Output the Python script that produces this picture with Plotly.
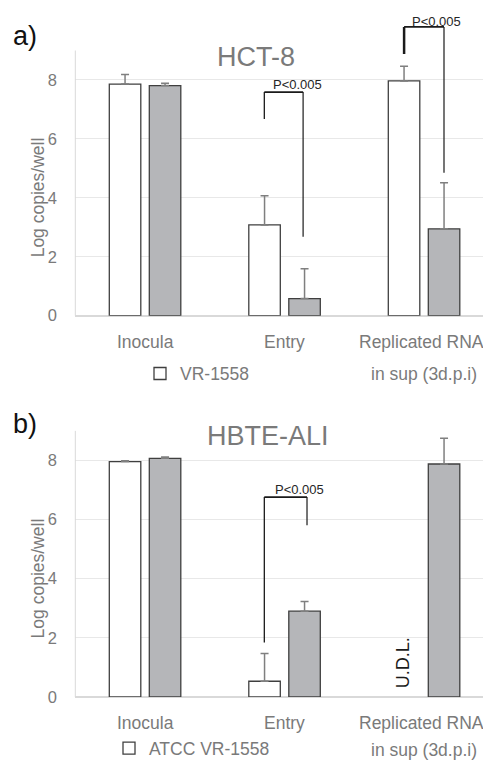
import plotly.graph_objects as go

# ---- data ----
categories = ["Inocula", "Entry", "Replicated RNA"]
cat_lines2 = ["", "", "in sup (3d.p.i)"]

# panel a) HCT-8
a_vr = [7.86, 3.08, 7.97]
a_vr_err = [0.33, 0.99, 0.50]
a_other = [7.81, 0.58, 2.95]
a_other_err = [0.08, 1.01, 1.56]

# panel b) HBTE-ALI
b_vr = [7.96, 0.53, None]          # replicated: U.D.L.
b_vr_err = [0.03, 0.94, 0]
b_other = [8.07, 2.90, 7.88]
b_other_err = [0.05, 0.33, 0.87]

yticks = [0, 2, 4, 6, 8]
p_label = "P<0.005"

# ---- styling ----
FONT = "Liberation Sans, Arial, sans-serif"
GREY_TXT = "#7a7a7a"
BAR_LINE = "#3f3f3f"
GREY_FILL = "#b5b6b9"
ERR_COL = "#7f7f7f"

OFF = 8           # page body margin
SY = 761 / 769    # observed vertical scale of the photographed page
W, H = 483, 775


def fx(p):
    return (p - OFF) / W


def py(p):
    return 1 - (p / SY - OFF) / H


fig = go.Figure()


def add_bars(vals, errs, xa, ya, fill, name, legend, show):
    fig.add_trace(go.Bar(
        x=categories, y=vals, name=name, xaxis=xa, yaxis=ya,
        marker=dict(color=fill, line=dict(color=BAR_LINE, width=1.3)),
        error_y=dict(type="data", array=errs, arrayminus=[0] * len(errs), symmetric=False,
                     color=ERR_COL, thickness=1.5, width=4),
        showlegend=show, legend=legend,
    ))


add_bars(a_vr, a_vr_err, "x", "y", "white", "VR-1558", "legend", True)
add_bars(a_other, a_other_err, "x", "y", GREY_FILL, "other", "legend", False)
add_bars(b_vr, b_vr_err, "x2", "y2", "white", "ATCC VR-1558", "legend2", True)
add_bars(b_other, b_other_err, "x2", "y2", GREY_FILL, "other", "legend2", False)

# axes
cat_px = 139.5
x_right = -0.5 + (491 - 75.3) / cat_px
top_dom = [py(316), py(21)]
bot_dom = [py(697.7), py(401.7)]

xcommon = dict(range=[-0.5, x_right], domain=[fx(75.3), 1], showticklabels=False,
               showgrid=False, zeroline=False, showline=False, fixedrange=True)
ycommon = dict(range=[0, 10], tickvals=yticks, showgrid=True, gridcolor="#e8e8e8",
               gridwidth=1, zeroline=True, zerolinecolor="#d9d9d9", zerolinewidth=2,
               showline=False, ticks="outside", ticklen=14, tickcolor="rgba(0,0,0,0)",
               tickfont=dict(family=FONT, size=16.5, color=GREY_TXT))

fig.update_layout(
    width=W, height=H,
    margin=dict(l=0, r=0, t=0, b=0),
    paper_bgcolor="white", plot_bgcolor="white",
    barmode="group", bargap=0.4265, bargroupgap=0.2125,
    xaxis=dict(anchor="y", **xcommon),
    xaxis2=dict(anchor="y2", **xcommon),
    yaxis=dict(anchor="x", domain=top_dom, **ycommon),
    yaxis2=dict(anchor="x2", domain=bot_dom, **ycommon),
    legend=dict(x=(180 - OFF - 40) / W, y=py(374), xanchor="left", yanchor="middle",
                font=dict(family=FONT, size=17.5, color=GREY_TXT), bgcolor="rgba(0,0,0,0)"),
    legend2=dict(x=(149 - OFF - 40) / W, y=py(749), xanchor="left", yanchor="middle",
                 font=dict(family=FONT, size=17.5, color=GREY_TXT), bgcolor="rgba(0,0,0,0)"),
)

shapes = []
# y-axis lines (0 to 9)
for xr, yr in (("x domain", "y"), ("x2 domain", "y2")):
    shapes.append(dict(type="line", xref=xr, yref=yr, x0=0, x1=0, y0=0, y1=9,
                       line=dict(color="#d9d9d9", width=1)))


def bracket(xr, yr, xl, xrgt, yl, ytop, yrb, lw_left=1.3):
    shapes.append(dict(type="line", xref=xr, yref=yr, x0=xl, x1=xl, y0=yl, y1=ytop,
                       line=dict(color="#1a1a1a", width=lw_left)))
    shapes.append(dict(type="line", xref=xr, yref=yr, x0=xl, x1=xrgt, y0=ytop, y1=ytop,
                       line=dict(color="#1a1a1a", width=1.8)))
    shapes.append(dict(type="line", xref=xr, yref=yr, x0=xrgt, x1=xrgt, y0=ytop, y1=yrb,
                       line=dict(color="#1a1a1a", width=1.2)))


bracket("x", "y", 0.855, 1.133, 6.68, 7.59, 2.68, lw_left=1.3)
bracket("x", "y", 1.857, 2.143, 8.88, 9.80, 4.85, lw_left=2.5)
bracket("x2", "y2", 0.855, 1.161, 1.84, 6.76, 5.81, lw_left=1.3)
fig.update_layout(shapes=shapes)

ann = []


def ptext(xr, yr, x, y):
    ann.append(dict(text=p_label, xref=xr, yref=yr, x=x, y=y, showarrow=False,
                    xanchor="center", yanchor="middle",
                    font=dict(family=FONT, size=13, color="#262626")))


ptext("x", "y", 1.093, 7.85)
ptext("x", "y", 2.09, 9.99)
ptext("x2", "y2", 1.104, 7.0)

# category labels
cat_shift = [0, 0, -3 / cat_px]
for xr, y1, y2 in (("x", 342, 374), ("x2", 724, 751)):
    for i, c in enumerate(categories):
        ann.append(dict(text=c, xref=xr, yref="paper", x=i + cat_shift[i], y=py(y1),
                        showarrow=False, xanchor="center", yanchor="middle",
                        font=dict(family=FONT, size=17.5, color=GREY_TXT)))
        if cat_lines2[i]:
            ann.append(dict(text=cat_lines2[i], xref=xr, yref="paper", x=i, y=py(y2),
                            showarrow=False, xanchor="center", yanchor="middle",
                            font=dict(family=FONT, size=17.5, color=GREY_TXT)))

# y axis titles
for yc in (197.5, 579):
    ann.append(dict(text="Log copies/well", xref="paper", yref="paper", x=fx(38), y=py(yc),
                    showarrow=False, textangle=-90, xanchor="center", yanchor="middle",
                    font=dict(family=FONT, size=17.5, color=GREY_TXT)))

# panel titles
ann.append(dict(text="HCT-8", xref="paper", yref="paper", x=fx(256), y=py(57),
                showarrow=False, xanchor="center", yanchor="middle",
                font=dict(family=FONT, size=27, color=GREY_TXT)))
ann.append(dict(text="HBTE-ALI", xref="paper", yref="paper", x=fx(268), y=py(436),
                showarrow=False, xanchor="center", yanchor="middle",
                font=dict(family=FONT, size=27, color=GREY_TXT)))
ann.append(dict(text="a)", xref="paper", yref="paper", x=fx(25), y=py(36),
                showarrow=False, xanchor="center", yanchor="middle",
                font=dict(family=FONT, size=27, color="#111111")))
ann.append(dict(text="b)", xref="paper", yref="paper", x=fx(25), y=py(424),
                showarrow=False, xanchor="center", yanchor="middle",
                font=dict(family=FONT, size=27, color="#111111")))

# U.D.L.
ann.append(dict(text="U.D.L.", xref="x2", yref="y2", x=1.849, y=1.17, showarrow=False,
                textangle=-90, xanchor="center", yanchor="middle",
                font=dict(family=FONT, size=18, color="#1a1a1a")))

fig.update_layout(annotations=ann)
fig.write_html("out.html")
